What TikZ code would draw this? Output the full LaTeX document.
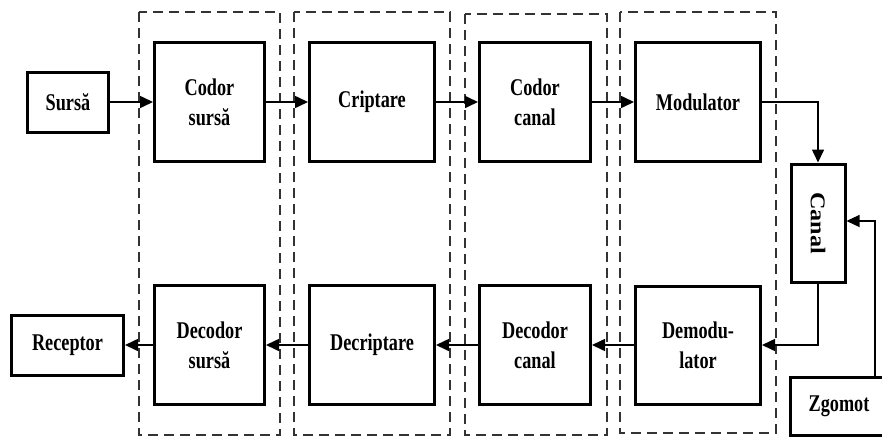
\documentclass[tikz,border=0pt]{standalone}
\usepackage{fontspec}
\setmainfont{Liberation Serif}
\newfontfamily\lblfont{Liberation Serif}[FakeStretch=0.76]
\newfontfamily\canalfont{Liberation Serif}[FakeStretch=1.15]
\usetikzlibrary{arrows.meta}
\begin{document}
\begin{tikzpicture}[x=1pt,y=-1pt,
  blk/.style={draw, line width=3pt, fill=white, align=center, inner sep=0pt,
    font=\lblfont\bfseries\fontsize{24}{30}\selectfont},
  grp/.style={draw=black!80, line width=2.8pt, dash pattern=on 10pt off 6pt},
  arr/.style={line width=1.6pt, -{Triangle[length=13pt,width=12pt]}},
  thin arr/.style={line width=1.2pt, -{Triangle[length=13pt,width=12pt]}}
]
\useasboundingbox (0,0) rectangle (882,439);
% dashed groups
\draw[grp] (139,12) rectangle (280,435);
\draw[grp] (294,12) rectangle (450,435);
\draw[grp] (465,14) rectangle (607,435);
\draw[grp] (620,12) rectangle (776,433);
% blocks
\node[blk, minimum width=81pt, minimum height=60pt] (src) at (68,102) {Sursă};
\node[blk, minimum width=110pt, minimum height=119pt] (cs) at (209.5,102) {Codor\\sursă};
\node[blk, minimum width=125pt, minimum height=119pt] (cr) at (372,102) {Criptare};
\node[blk, minimum width=111pt, minimum height=119pt] (cc) at (535,102) {Codor\\canal};
\node[blk, minimum width=125pt, minimum height=119pt] (mod) at (698,102) {Modulator};
\node[blk, minimum width=54pt, minimum height=118pt] (can) at (818,223)
  {\rotatebox{-90}{\canalfont\bfseries\fontsize{21}{24}\selectfont Canal}};
\node[blk, minimum width=125pt, minimum height=118pt] (dem) at (698,345) {Demodu-\\lator};
\node[blk, minimum width=111pt, minimum height=119pt] (dc) at (535,345) {Decodor\\canal};
\node[blk, minimum width=125pt, minimum height=119pt] (dcr) at (372,345) {Decriptare};
\node[blk, minimum width=110pt, minimum height=119pt] (ds) at (209.5,345) {Decodor\\sursă};
\node[blk, minimum width=112pt, minimum height=60pt] (rec) at (67.5,345) {Receptor};
\node[blk, minimum width=97pt, minimum height=58pt] (zg) at (839,406.5) {Zgomot};
% connectors
\draw[arr] (src) -- (cs);
\draw[arr] (cs) -- (cr);
\draw[arr] (cr) -- (cc);
\draw[arr] (cc) -- (mod);
\draw[arr] (mod.east) -| (can.north);
\draw[arr] (can.south) |- (dem.east);
\draw[thin arr] ([xshift=36pt]zg.north) |- ([yshift=2pt]can.east);
\draw[arr] (dem) -- (dc);
\draw[arr] (dc) -- (dcr);
\draw[arr] (dcr) -- (ds);
\draw[arr] (ds) -- (rec);
\end{tikzpicture}
\end{document}
